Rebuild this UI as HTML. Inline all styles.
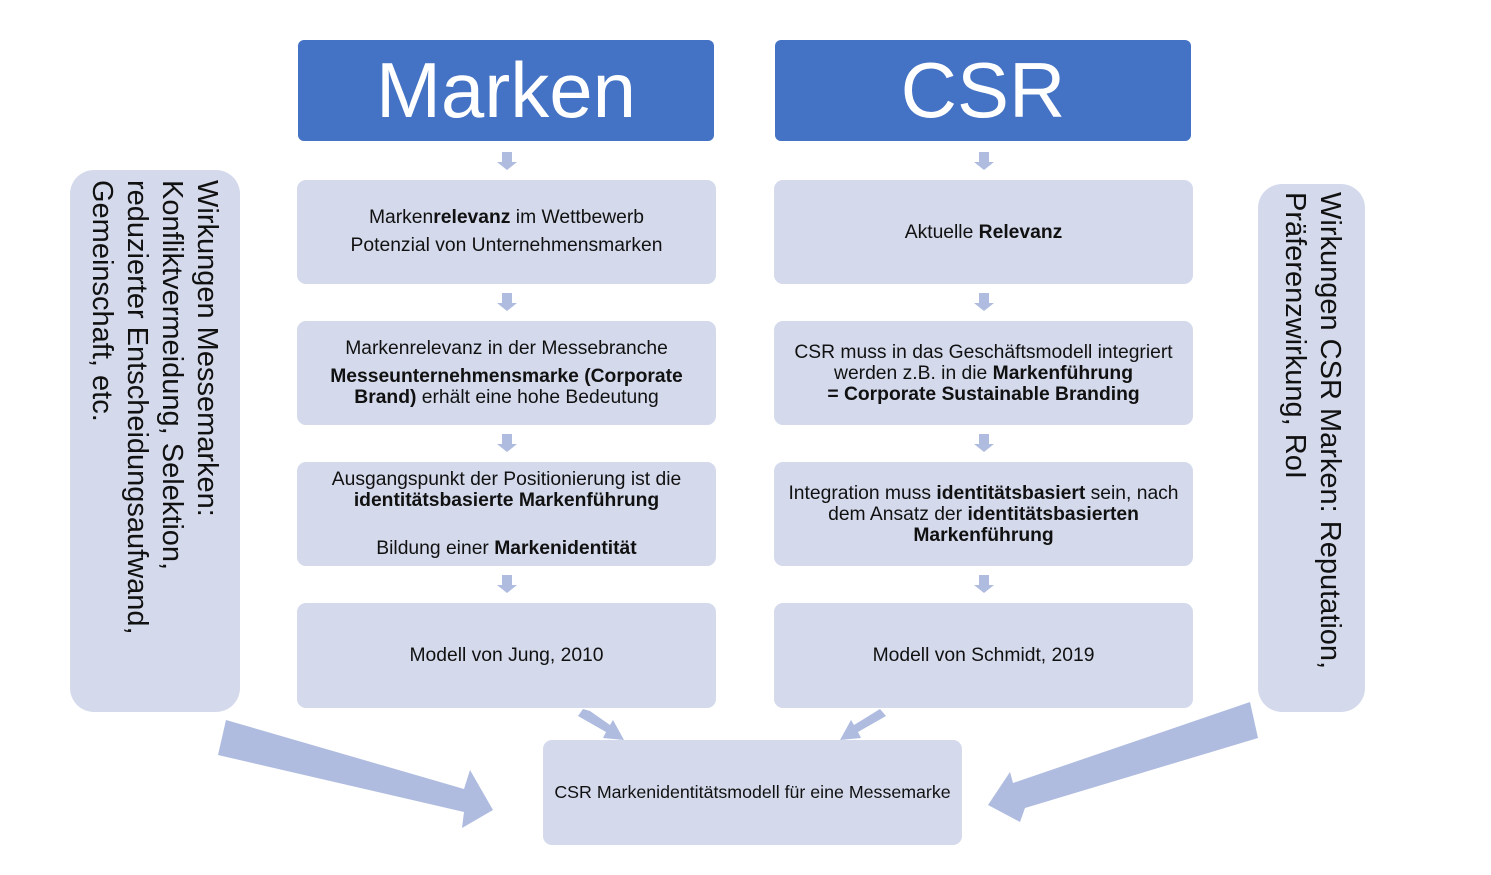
<!DOCTYPE html>
<html><head><meta charset="utf-8"><style>
body{margin:0;width:1491px;height:875px;background:#fff;position:relative;overflow:hidden;font-family:"Liberation Sans",Arial,sans-serif;}
.h{position:absolute;background:#4472C4;color:#fff;border-radius:6px;font-size:78px;display:flex;align-items:center;justify-content:center;}
.b{position:absolute;background:#D4DAEC;border-radius:9px;color:#111;font-size:19.3px;line-height:21px;display:flex;flex-direction:column;align-items:center;justify-content:center;text-align:center;}
.v{position:absolute;background:#D4DAEC;border-radius:24px;writing-mode:vertical-rl;font-size:29px;line-height:35px;color:#111;box-sizing:border-box;}
svg{position:absolute;left:0;top:0;}
</style></head><body>
<svg width="1491" height="875">
<g fill="#AFBCE0">
<g id="da"><polygon points="502,152 512,152 512,162 517,162 507,170 497,162 502,162"/></g>
<use href="#da" y="141"/><use href="#da" y="282"/><use href="#da" y="423"/>
<use href="#da" x="477"/><use href="#da" x="477" y="141"/><use href="#da" x="477" y="282"/><use href="#da" x="477" y="423"/>
<polygon points="583,709 590,711 610,725 613,720 624,740 603,738 606,732 578,716"/>
<polygon points="880,709 886,716 858,732 861,738 840,740 851,720 854,725"/>
<polygon points="226,720 464,789 470,770 493,810 462,828 464,812 218,755"/>
<polygon points="1250,702 1258,738 1025,808 1020,822 988,805 1010,772 1013,783"/>
</g>
</svg>
<div class="h" style="left:298px;top:40px;width:416px;height:101px;">Marken</div>
<div class="h" style="left:775px;top:40px;width:416px;height:101px;">CSR</div>

<div class="b" style="left:297px;top:180px;width:419px;height:104px;line-height:28px;"><div>Marken<b>relevanz</b> im Wettbewerb</div><div>Potenzial von Unternehmensmarken</div></div>
<div class="b" style="left:297px;top:321px;width:419px;height:104px;"><div style="margin-bottom:7px">Markenrelevanz in der Messebranche</div><div><b>Messeunternehmensmarke (Corporate<br>Brand)</b> erhält eine hohe Bedeutung</div></div>
<div class="b" style="left:297px;top:462px;width:419px;height:104px;"><div>Ausgangspunkt der Positionierung ist die<br><b>identitätsbasierte Markenführung</b></div><div style="margin-top:27px">Bildung einer <b>Markenidentität</b></div></div>
<div class="b" style="left:297px;top:603px;width:419px;height:105px;">Modell von Jung, 2010</div>

<div class="b" style="left:774px;top:180px;width:419px;height:104px;"><div>Aktuelle <b>Relevanz</b></div></div>
<div class="b" style="left:774px;top:321px;width:419px;height:104px;"><div>CSR muss in das Geschäftsmodell integriert<br>werden z.B. in die <b>Markenführung</b><br><b>= Corporate Sustainable Branding</b></div></div>
<div class="b" style="left:774px;top:462px;width:419px;height:104px;"><div>Integration muss <b>identitätsbasiert</b> sein, nach<br>dem Ansatz der <b>identitätsbasierten<br>Markenführung</b></div></div>
<div class="b" style="left:774px;top:603px;width:419px;height:105px;">Modell von Schmidt, 2019</div>

<div class="b" style="left:543px;top:740px;width:419px;height:105px;font-size:17.8px;">CSR Markenidentitätsmodell für eine Messemarke</div>

<div class="v" style="left:70px;top:170px;width:170px;height:542px;padding:10px 16px 0 0;">Wirkungen Messemarken:<br>Konfliktvermeidung, Selektion,<br>reduzierter Entscheidungsaufwand,<br>Gemeinschaft, etc.</div>
<div class="v" style="left:1258px;top:184px;width:107px;height:528px;padding:8px 18px 0 0;">Wirkungen CSR Marken: Reputation,<br>Präferenzwirkung, RoI</div>
</body></html>
